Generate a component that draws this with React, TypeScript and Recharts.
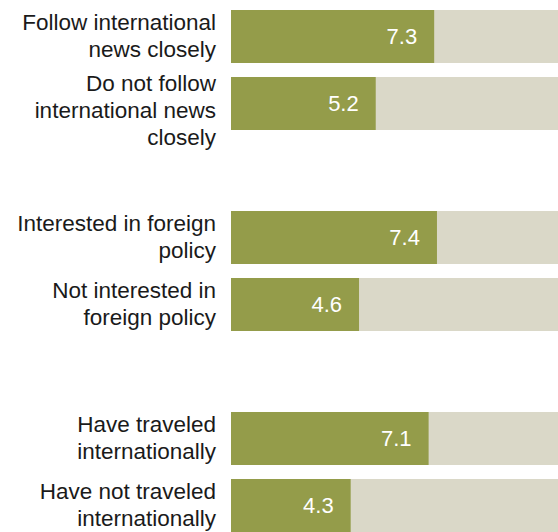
import React from "react";
import { BarChart, Bar, XAxis, YAxis, LabelList } from "recharts";

// Row labels (line breaks mark the wrapped lines in the reference)
const categories = [
  "Follow international\nnews closely",
  "Do not follow\ninternational news\nclosely",
  "Interested in foreign\npolicy",
  "Not interested in\nforeign policy",
  "Have traveled\ninternationally",
  "Have not traveled\ninternationally",
];
const values = [7.3, 5.2, 7.4, 4.6, 7.1, 4.3];
// an empty row is left after these indices to separate the groups
const gapsAfter = [1, 3];

const GREEN = "#949c4a";
const TRACK = "#dad8c8";
const FONT = "'Liberation Sans', Arial, sans-serif";

const data: { key: string; label: string; value: number | null }[] = [];
categories.forEach((label, i) => {
  data.push({ key: `row${i}`, label, value: values[i] });
  if (gapsAfter.includes(i)) data.push({ key: `gap${i}`, label: "", value: null });
});

const labelFor = (key: string) => data.find((d) => d.key === key)?.label || "";

function CategoryTick(props: any) {
  const { x, y, payload } = props;
  const lines = labelFor(payload.value).split("\n").filter(Boolean);
  const lineHeight = 27;
  // 3-line labels sit a little low in the original, not fully centred
  const nudge = lines.length > 2 ? 7 : -1;
  const startY = y - ((lines.length - 1) * lineHeight) / 2 + nudge;
  return (
    <text x={x} y={startY} textAnchor="end" fill="#1a1a1a" fontSize={22.5} fontFamily={FONT}>
      {lines.map((line, i) => (
        <tspan key={i} x={x} y={startY + i * lineHeight} dy="0.35em">
          {line}
        </tspan>
      ))}
    </text>
  );
}

function Track(props: any) {
  const { x, y, width, height, payload } = props;
  if (!payload || payload.value == null) return <g />;
  return <rect x={x} y={y} width={width} height={height} fill={TRACK} />;
}

function ValueLabel(props: any) {
  const { x, y, width, height, value } = props;
  if (value == null) return null;
  return (
    <text
      x={x + width - 17}
      y={y + height / 2}
      dy="0.35em"
      textAnchor="end"
      fill="#ffffff"
      fontSize={22}
      fontFamily={FONT}
    >
      {value.toFixed(1)}
    </text>
  );
}

export default function App() {
  return (
    <div
      style={{
        position: "fixed",
        left: 0,
        top: 0,
        width: 558,
        height: 532,
        overflow: "hidden",
        background: "#fff",
      }}
    >
      <BarChart
        width={566}
        height={539}
        data={data}
        layout="vertical"
        margin={{ top: 3, right: 1, bottom: 0, left: 0 }}
      >
        <XAxis type="number" domain={[0, 12]} hide />
        <YAxis
          type="category"
          dataKey="key"
          width={231}
          axisLine={false}
          tickLine={false}
          tickMargin={9}
          interval={0}
          tick={<CategoryTick />}
        />
        <Bar
          dataKey="value"
          fill={GREEN}
          barSize={53}
          background={<Track />}
          isAnimationActive={false}
        >
          <LabelList dataKey="value" content={<ValueLabel />} />
        </Bar>
      </BarChart>
    </div>
  );
}
